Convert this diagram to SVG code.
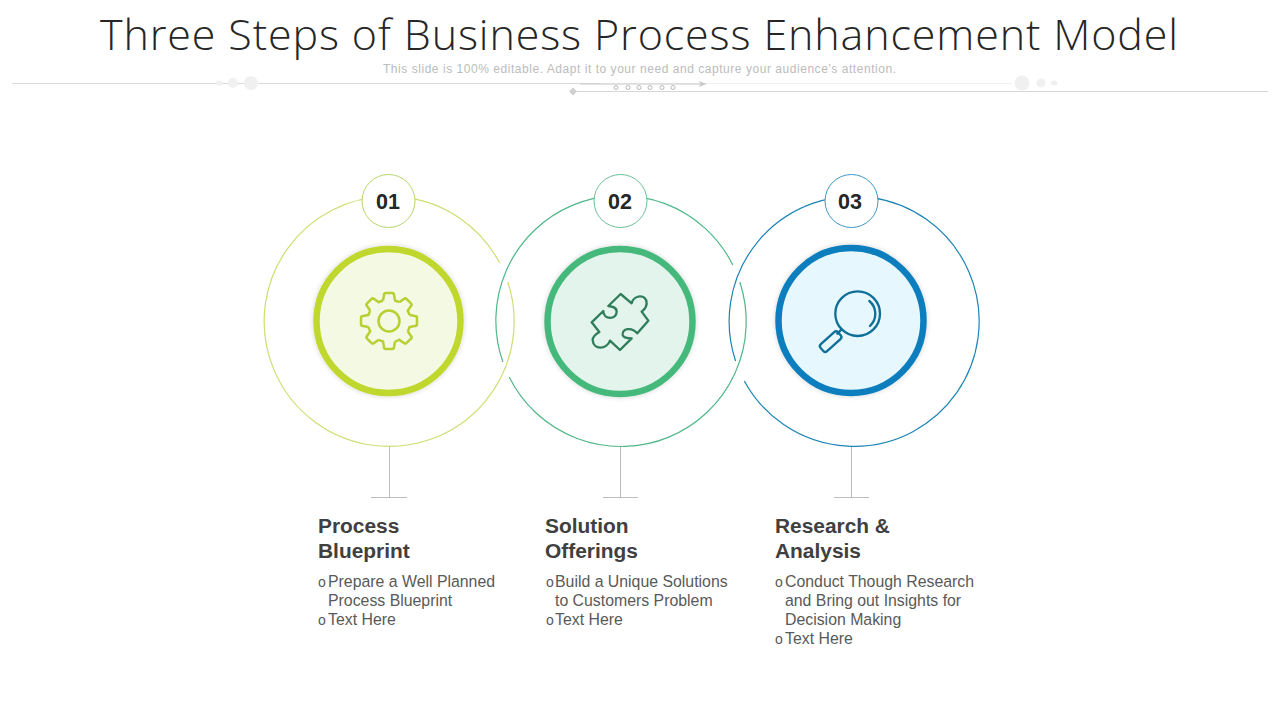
<svg xmlns="http://www.w3.org/2000/svg" xmlns:xlink="http://www.w3.org/1999/xlink" width="1280" height="720" viewBox="0 0 1280 720">
<style>
.title{font-family:"Open Sans","Lato","Liberation Sans",sans-serif;font-weight:300;font-size:43px;fill:#262626}
.sub{font-family:"Liberation Sans",Arial,sans-serif;font-size:12px;fill:#bcbcbc}
.num{font-family:"Liberation Sans",Arial,sans-serif;font-weight:700;font-size:21.5px;fill:#262626;text-anchor:middle}
.head{font-family:"Liberation Sans",Arial,sans-serif;font-weight:700;font-size:20.9px;fill:#404040}
.body{font-family:"Liberation Sans",Arial,sans-serif;font-size:15.85px;fill:#595959}
.bul{font-family:"Liberation Sans",Arial,sans-serif;font-size:14px;fill:#595959}
.ring{fill:none;stroke-width:1.2}
.badge{fill:#fff;stroke-width:1}
.core{stroke-width:6.5;filter:url(#soft)}
.stem{stroke:#bdbdbd;stroke-width:1;fill:none}
.deco{fill:#f0f0f0}
</style>
<defs>
<filter id="soft" x="-20%" y="-20%" width="140%" height="140%"><feGaussianBlur in="SourceAlpha" stdDeviation="2.5"/><feColorMatrix values="0 0 0 0 0 0 0 0 0 0 0 0 0 0 0 0 0 0 0.18 0"/><feMerge><feMergeNode/><feMergeNode in="SourceGraphic"/></feMerge></filter>
<path id="tooth" d="M-6,-20.5 L-5,-26 Q-5,-28 -3,-28 L3,-28 Q5,-28 5,-26 L6,-20.5 Q8,-20 10.25,-18.74" fill="none" stroke="#b7cf33" stroke-width="2.5"/>
<marker id="arrow" markerWidth="8" markerHeight="6" refX="7" refY="3" orient="auto" markerUnits="userSpaceOnUse"><path d="M0,0 L7,3 L0,6 L1.5,3 Z" fill="#c8c8c8"/></marker>
</defs>
<rect width="1280" height="720" fill="#fff"/>
<g id="header">
<text class="title" x="100" y="50" textLength="1078" lengthAdjust="spacing">Three Steps of Business Process Enhancement Model</text>
<text class="sub" x="383" y="73" textLength="513" lengthAdjust="spacing">This slide is 100% editable. Adapt it to your need and capture your audience’s attention.</text>
<path d="M12,83.5 H600" stroke="#d9d9d9" stroke-width="1" fill="none"/>
<path d="M600,83.5 H1012" stroke="#f0f0f0" stroke-width="1" fill="none"/>
<path d="M573,91.5 H1268" stroke="#d6d6d6" stroke-width="1" fill="none"/>
<path d="M580,84 H706" stroke="#c8c8c8" stroke-width="1" fill="none" marker-end="url(#arrow)"/>
<path d="M573,87.5 L577,91.5 L573,95.5 L569,91.5 Z" fill="#d0d0d0"/>
<circle class="deco" cx="251" cy="83" r="7"/><circle class="deco" cx="233" cy="83" r="5"/><ellipse class="deco" cx="219" cy="83" rx="3.5" ry="2.5"/>
<circle class="deco" cx="1022" cy="83" r="7.5"/><circle class="deco" cx="1041" cy="83" r="4.5"/><ellipse class="deco" cx="1054" cy="83" rx="3.5" ry="2.5"/>
<g fill="#fff" stroke="#b8b8b8" stroke-width="1"><circle cx="616" cy="87.5" r="2"/><circle cx="628" cy="87.5" r="2"/><circle cx="639" cy="87.5" r="2"/><circle cx="650" cy="87.5" r="2"/><circle cx="662" cy="87.5" r="2"/><circle cx="673" cy="87.5" r="2"/></g>
</g>
<g id="connectors">
<path class="stem" d="M389.5,446 V497.5 M371,497.5 H407"/>
<path class="stem" d="M620.5,446 V497.5 M603,497.5 H638"/>
<path class="stem" d="M851.5,446 V497.5 M834,497.5 H869"/>
</g>
<g id="node-1">
<path class="ring" stroke="#cfdd72" d="M507.8,282 A125,125 0 1 1 499.7,263"/>
<circle class="badge" stroke="#b5d66c" cx="388.5" cy="201" r="26.5"/>
<text class="num" x="388" y="209">01</text>
<circle class="core" cx="388.5" cy="321" r="72" fill="#f4f9e3" stroke="#c0d82f"/>
<g transform="translate(389,321)">
<use xlink:href="#tooth" href="#tooth"/>
<use xlink:href="#tooth" href="#tooth" transform="rotate(45)"/>
<use xlink:href="#tooth" href="#tooth" transform="rotate(90)"/>
<use xlink:href="#tooth" href="#tooth" transform="rotate(135)"/>
<use xlink:href="#tooth" href="#tooth" transform="rotate(180)"/>
<use xlink:href="#tooth" href="#tooth" transform="rotate(225)"/>
<use xlink:href="#tooth" href="#tooth" transform="rotate(270)"/>
<use xlink:href="#tooth" href="#tooth" transform="rotate(315)"/>
<circle r="10.5" fill="none" stroke="#b7cf33" stroke-width="2.5"/>
</g>
<text class="head" x="318" y="533">Process</text>
<text class="head" x="318" y="558">Blueprint</text>
<text class="bul" x="318" y="587">o</text><text class="body" x="328" y="587">Prepare a Well Planned</text>
<text class="body" x="328" y="606">Process Blueprint</text>
<text class="bul" x="318" y="625">o</text><text class="body" x="328" y="625">Text Here</text>
</g>
<g id="node-2">
<path class="ring" stroke="#4fb788" d="M739.8,282 A125,125 0 0 1 509.2,377"/>
<path class="ring" stroke="#4fb788" d="M502.9,362 A125,125 0 0 1 732.8,265"/>
<circle class="badge" stroke="#6cc096" cx="620.5" cy="201" r="26.5"/>
<text class="num" x="620" y="209">02</text>
<circle class="core" cx="620" cy="321.5" r="72.5" fill="#e3f4ec" stroke="#45b97c"/>
<g transform="translate(490,170) scale(0.3333)">
<path fill="none" stroke="#2f7d5a" stroke-width="7" stroke-linejoin="round" d="M392,372 L425,400 C430,375 470,370 470,400 C470,415 462,418 455,425 L475,452 L442,490 C425,470 395,475 398,495 C400,505 415,505 425,505 L390,540 L360,512 C350,540 310,540 308,510 C308,498 318,492 328,486 L305,457 L340,423 C340,450 380,450 380,425 C380,410 365,410 355,408 Z"/>
</g>
<text class="head" x="545" y="533">Solution</text>
<text class="head" x="545" y="558">Offerings</text>
<text class="bul" x="546" y="587">o</text><text class="body" x="555" y="587">Build a Unique Solutions</text>
<text class="body" x="555" y="606">to Customers Problem</text>
<text class="bul" x="546" y="625">o</text><text class="body" x="555" y="625">Text Here</text>
</g>
<g id="node-3">
<path class="ring" stroke="#1c84b5" d="M735.6,361 A125,125 0 1 1 744.3,381"/>
<circle class="badge" stroke="#3f97c4" cx="851.5" cy="201" r="26.5"/>
<text class="num" x="850" y="209">03</text>
<circle class="core" cx="851" cy="320.5" r="72.5" fill="#e6f7fd" stroke="#0a7ebd"/>
<g transform="translate(720,170) scale(0.3333)" fill="none" stroke="#0f6f98" stroke-width="7" stroke-linecap="round">
<circle cx="413" cy="431" r="67"/>
<path d="M448,393 A50,50 0 0 1 450,468"/>
<path d="M364,479 L352,491"/>
<rect x="297" y="501" width="70" height="28" rx="8" transform="rotate(-42 332 515)"/>
</g>
<text class="head" x="775" y="533">Research &amp;</text>
<text class="head" x="775" y="558">Analysis</text>
<text class="bul" x="775" y="587">o</text><text class="body" x="785" y="587">Conduct Though Research</text>
<text class="body" x="785" y="606">and Bring out Insights for</text>
<text class="body" x="785" y="625">Decision Making</text>
<text class="bul" x="775" y="644">o</text><text class="body" x="785" y="644">Text Here</text>
</g>
</svg>
